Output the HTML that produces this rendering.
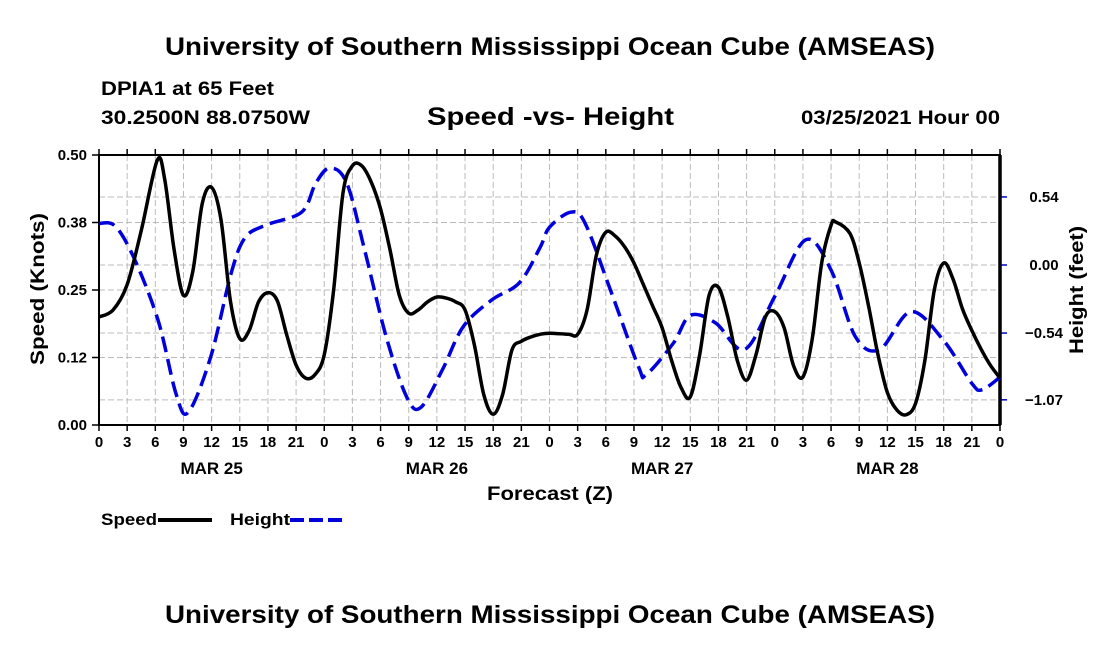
<!DOCTYPE html>
<html><head><meta charset="utf-8"><style>
body{margin:0;background:#fff;}
svg{display:block;font-family:"Liberation Sans",Arial,sans-serif;font-weight:bold;}
</style></head><body>
<svg id="c" width="1100" height="650" viewBox="0 0 1100 650" xmlns="http://www.w3.org/2000/svg">
<rect width="1100" height="650" fill="#fff"/>
<text x="165" y="55" font-size="25" textLength="770" lengthAdjust="spacingAndGlyphs">University of Southern Mississippi Ocean Cube (AMSEAS)</text>
<text x="101" y="95" font-size="19" textLength="173" lengthAdjust="spacingAndGlyphs">DPIA1 at 65 Feet</text>
<text x="101" y="124" font-size="19" textLength="209" lengthAdjust="spacingAndGlyphs">30.2500N  88.0750W</text>
<text x="427" y="125" font-size="25" textLength="247" lengthAdjust="spacingAndGlyphs">Speed -vs- Height</text>
<text x="801" y="124" font-size="19" textLength="199" lengthAdjust="spacingAndGlyphs">03/25/2021 Hour 00</text>
<g id="grid"></g>
<g id="axes"></g>
<g id="series"></g>
<text transform="translate(44,289) rotate(-90)" font-size="19" text-anchor="middle" textLength="152" lengthAdjust="spacingAndGlyphs">Speed (Knots)</text>
<text transform="translate(1083,290) rotate(-90)" font-size="19" text-anchor="middle" textLength="128" lengthAdjust="spacingAndGlyphs">Height (feet)</text>
<text x="487" y="500" font-size="19" textLength="126" lengthAdjust="spacingAndGlyphs">Forecast (Z)</text>
<g>
<text x="101" y="525" font-size="17" textLength="56" lengthAdjust="spacingAndGlyphs">Speed</text>
<line x1="158" y1="520" x2="212" y2="520" stroke="#000" stroke-width="4"/>
<text x="230" y="525" font-size="17" textLength="60" lengthAdjust="spacingAndGlyphs">Height</text>
<line x1="290" y1="520" x2="342" y2="520" stroke="#0000dd" stroke-width="4" stroke-dasharray="14,5"/>
</g>
<text x="165" y="623" font-size="25" textLength="770" lengthAdjust="spacingAndGlyphs">University of Southern Mississippi Ocean Cube (AMSEAS)</text>
</svg>
<script>
const speedHours=[0,1.5,3,4.5,6.2,7,8,9,10,11,12,13,14,15,16,17,18,19,20,21,22,23,24,25,26,27,28,29,30,31,32,33,34,35,36,37,38,39,40,41,42,43,44,45,46,47,48,50,51,52,53,54,55,56,57,58,59,60,61,62,63,64,65,66,67,68,69,70,71,72,73,74,75,76,77,78,78.5,80,81,82,83,84,85,86,87,88,89,90,91,92,93,94,95,96];
const speedVals=[0.20,0.213,0.26,0.36,0.49,0.455,0.325,0.24,0.285,0.41,0.44,0.38,0.23,0.16,0.175,0.228,0.245,0.23,0.167,0.111,0.087,0.093,0.13,0.25,0.43,0.48,0.48,0.45,0.40,0.325,0.24,0.207,0.213,0.228,0.237,0.235,0.228,0.213,0.148,0.056,0.02,0.056,0.139,0.155,0.163,0.168,0.17,0.168,0.168,0.213,0.315,0.357,0.35,0.33,0.30,0.26,0.22,0.18,0.12,0.07,0.052,0.13,0.24,0.255,0.2,0.12,0.083,0.13,0.2,0.21,0.18,0.11,0.089,0.16,0.30,0.37,0.376,0.355,0.30,0.22,0.13,0.06,0.028,0.019,0.04,0.12,0.25,0.30,0.27,0.215,0.175,0.14,0.11,0.087];
const heightHours=[0,1.7,3.7,6.3,8.2,9.5,11.9,14.1,15.6,17.9,21.6,23.1,24.6,26.4,28.3,30.6,32.8,34.3,36.6,38.8,41.8,44.8,47,48,50.3,51.8,54.5,57.5,58.3,61.2,63,65.7,68.8,72,75.3,78,80.6,83.2,86.5,90,93,94.1,96];
const heightVals=[0.33,0.31,0.06,-0.44,-1.02,-1.17,-0.73,-0.06,0.22,0.32,0.42,0.65,0.77,0.65,0.12,-0.57,-1.05,-1.13,-0.83,-0.49,-0.28,-0.14,0.14,0.30,0.42,0.33,-0.2,-0.81,-0.87,-0.62,-0.40,-0.46,-0.67,-0.25,0.20,-0.04,-0.57,-0.67,-0.37,-0.6,-0.94,-0.99,-0.89];
const leftTicks=[0,0.125,0.25,0.375,0.5];
const leftTickLabels=["0.00","0.12","0.25","0.38","0.50"];
const rightTicks=[-1.07,-0.54,0,0.54];
const rightTickLabels=["\u22121.07","\u22120.54","0.00","0.54"];
const dayLabels=["MAR 25","MAR 26","MAR 27","MAR 28"];
const dayHours=[12,36,60,84];

const L=99,R=1000,T=155,B=425;
const xS=h=>L+(R-L)*h/96;
const yL=v=>B-(B-T)*v/0.5;
const yR=v=>265-126*v;
const NS='http://www.w3.org/2000/svg';
function mk(tag,attrs,parent){const e=document.createElementNS(NS,tag);for(const k in attrs)e.setAttribute(k,attrs[k]);parent.appendChild(e);return e;}
const grid=document.getElementById('grid'),axes=document.getElementById('axes'),series=document.getElementById('series');
for(let h=3;h<96;h+=3){const g=mk('line',{x1:xS(h),x2:xS(h),y1:T,y2:B,stroke:'#bbb','stroke-dasharray':'6,3'},grid);

}
leftTicks.forEach((v,i)=>{if(v>0&&v<0.5){const g=mk('line',{x1:L,x2:R,y1:yL(v),y2:yL(v),stroke:'#bbb','stroke-dasharray':'6,3'},grid);

}
mk('line',{x1:L-7,x2:L,y1:yL(v),y2:yL(v),stroke:'#000','stroke-width':1.5},axes);
const t=mk('text',{x:L-12,y:yL(v)+5,'font-size':15,'text-anchor':'end'},axes);t.textContent=leftTickLabels[i];

});
rightTicks.forEach((v,i)=>{const g=mk('line',{x1:L,x2:R,y1:yR(v),y2:yR(v),stroke:'#bbb','stroke-dasharray':'6,3'},grid);


mk('line',{x1:R,x2:R+7,y1:yR(v),y2:yR(v),stroke:'#0000cc','stroke-width':1.5},axes);
const t=mk('text',{x:1044,y:yR(v)+5,'font-size':15,'text-anchor':'middle'},axes);t.textContent=rightTickLabels[i];

});
for(let h=0;h<=96;h+=3){mk('line',{x1:xS(h),x2:xS(h),y1:B,y2:B+6,stroke:'#000','stroke-width':1.5},axes);
mk('line',{x1:xS(h),x2:xS(h),y1:T,y2:T-6,stroke:'#000','stroke-width':1.5},axes);
const t=mk('text',{x:xS(h),y:447,'font-size':15,'text-anchor':'middle'},axes);t.textContent=String(h%24);

}
dayLabels.forEach((d,i)=>{const t=mk('text',{x:xS(dayHours[i]),y:474,'font-size':17,'text-anchor':'middle'},axes);t.textContent=d;

});
const fr=mk('rect',{x:L,y:T,width:R-L,height:B-T,fill:'none',stroke:'#000','stroke-width':2},axes);


const ra=mk('line',{x1:R,x2:R,y1:T,y2:B,stroke:'#000','stroke-width':3.5},axes);


function smooth(pts){let d='M'+pts[0][0]+','+pts[0][1];
for(let i=0;i<pts.length-1;i++){const p0=pts[Math.max(0,i-1)],p1=pts[i],p2=pts[i+1],p3=pts[Math.min(pts.length-1,i+2)];
const c1=[p1[0]+(p2[0]-p0[0])/6,p1[1]+(p2[1]-p0[1])/6],c2=[p2[0]-(p3[0]-p1[0])/6,p2[1]-(p3[1]-p1[1])/6];
d+=' C'+c1.join(',')+' '+c2.join(',')+' '+p2.join(',');}return d;}
const hp=mk('path',{d:smooth(heightHours.map((h,i)=>[xS(h),yR(heightVals[i])])),fill:'none',stroke:'#0000dd','stroke-width':3.5,'stroke-dasharray':'16,7'},series);


const sp=mk('path',{d:smooth(speedHours.map((h,i)=>[xS(h),yL(speedVals[i])])),fill:'none',stroke:'#000','stroke-width':3.5},series);


</script>
</body></html>
